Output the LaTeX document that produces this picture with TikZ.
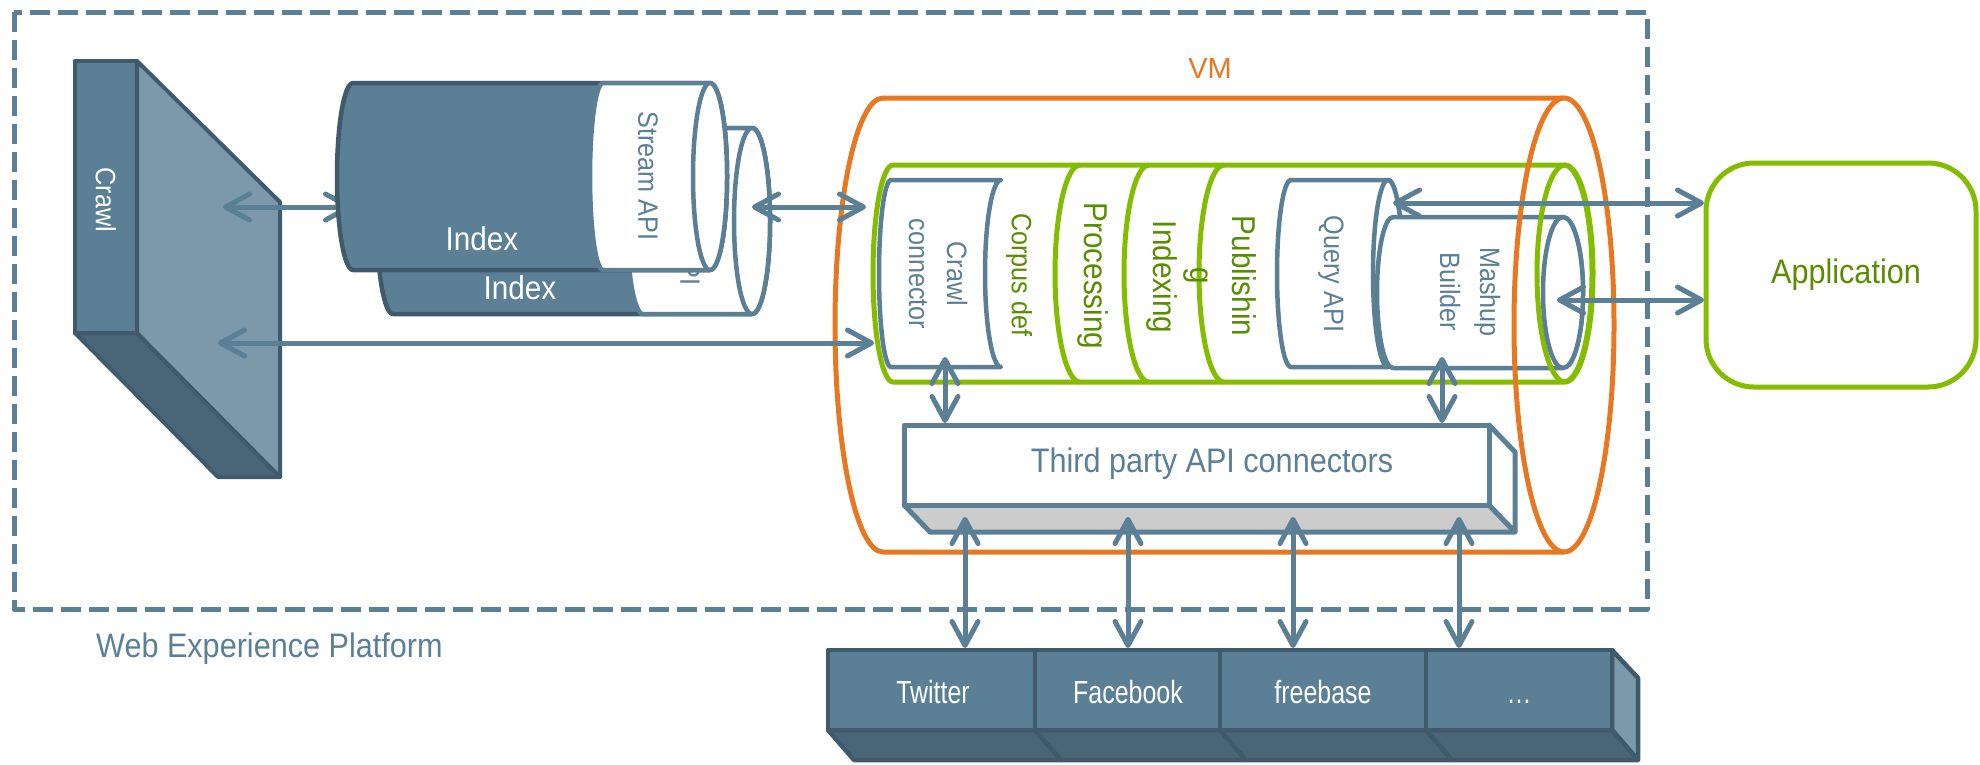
\documentclass[tikz,border=0pt]{standalone}
\usepackage{fontspec}
\setmainfont{Liberation Sans}[FakeStretch=0.9]
\newfontfamily\condfont{Liberation Sans}[FakeStretch=0.78]
\newfontfamily\plainfont{Liberation Sans}
\usetikzlibrary{arrows.meta}
\definecolor{sb}{HTML}{5B7F95}
\definecolor{sbd}{HTML}{3F5A6C}
\definecolor{sbb}{HTML}{4A6577}
\definecolor{sbl}{HTML}{7C99AC}
\definecolor{vmor}{HTML}{E87722}
\definecolor{gln}{HTML}{84BD00}
\definecolor{gtx}{HTML}{5A8C00}
\definecolor{lgr}{HTML}{CCCCCC}
\begin{document}
\begin{tikzpicture}[x=1pt,y=-1pt,line join=round,
  tA/.style={font=\fontsize{28}{38}\selectfont},
  tB/.style={font=\fontsize{33}{42}\selectfont},
  tC/.style={font=\fontsize{34}{40}\selectfont},
  tD/.style={font=\condfont\fontsize{32}{38}\selectfont},
  dk/.style={fill=sb,draw=sbd,line width=4.5pt},
  wt/.style={fill=white,draw=sb,line width=4.5pt},
  gr/.style={draw=gln,line width=5pt},
  arr/.style={draw=sb,line width=5pt,line cap=round,{Straight Barb[length=24pt,width=26pt,round]}-{Straight Barb[length=24pt,width=26pt,round]}}]
\useasboundingbox (0,0) rectangle (1980,764);

% platform frame
\draw[sb,line width=5pt,dash pattern=on 20pt off 8pt] (14,12) rectangle (1647,609);
\node[tC,text=sb,anchor=base west,inner sep=0pt] (wep) at (96,657) {Web Experience Platform};

% crawl wall
\filldraw[fill=sbb,draw=sbd,line width=4pt] (75,333) -- (137,333) -- (280,477) -- (218,477) -- cycle;
\filldraw[fill=sbl,draw=sbd,line width=4pt] (137,61) -- (280,202) -- (280,477) -- (137,333) -- cycle;
\filldraw[fill=sb,draw=sbd,line width=4pt] (75,61) rectangle (137,333);
\node[tA,rotate=-90,text=white] (crawl) at (106,200) {Crawl};

% arrow crawl <-> index (behind cylinder)
\coordinate (c1) at (223,207);
\coordinate (i1) at (352,207);
\draw[arr] (c1) -- (i1);

% back index cylinder
\filldraw[dk] (393,128) -- (752,128) arc[start angle=90,end angle=-90,x radius=18pt,y radius=93pt] -- (393,314) arc[start angle=270,end angle=90,x radius=16pt,y radius=93pt] -- cycle;
\filldraw[wt] (643,128) -- (752,128) arc[start angle=90,end angle=-90,x radius=18pt,y radius=93pt] -- (643,314) arc[start angle=270,end angle=90,x radius=16pt,y radius=93pt] -- cycle;
\filldraw[wt] (752,221) ellipse[x radius=18pt,y radius=93pt];
\node[tB,text=white] (idx2) at (520,288) {Index};
\node[tA,rotate=-90,text=sb] (sapi2) at (690,221) {Stream API};

% front index cylinder
\filldraw[dk] (353,83) -- (710,83) arc[start angle=90,end angle=-90,x radius=17pt,y radius=93.5pt] -- (353,270) arc[start angle=270,end angle=90,x radius=16pt,y radius=93.5pt] -- cycle;
\filldraw[wt] (603,83) -- (710,83) arc[start angle=90,end angle=-90,x radius=17pt,y radius=93.5pt] -- (603,270) arc[start angle=270,end angle=90,x radius=13pt,y radius=93.5pt] -- cycle;
\filldraw[wt] (710,176.5) ellipse[x radius=17pt,y radius=93.5pt];
\node[tB,text=white] (idx1) at (482,239) {Index};
\node[tA,rotate=-90,text=sb] (sapi1) at (648,176) {Stream API};

% VM orange cylinder body
\draw[vmor,line width=5pt] (1564,98) -- (883,98) arc[start angle=90,end angle=270,x radius=48pt,y radius=227pt] -- (1564,552);
\node[font=\plainfont\fontsize{29}{34}\selectfont,text=vmor,anchor=base] (vm) at (1210,78) {VM};

% green pipeline cylinder
\filldraw[fill=white,gr] (893,165) -- (1564,165) arc[start angle=90,end angle=-90,x radius=28pt,y radius=108.5pt] -- (893,382) arc[start angle=270,end angle=90,x radius=20pt,y radius=108.5pt] -- cycle;
\draw[gr] (1080,165) arc[start angle=90,end angle=270,x radius=25pt,y radius=108.5pt];
\draw[gr] (1149,165) arc[start angle=90,end angle=270,x radius=25pt,y radius=108.5pt];
\draw[gr] (1224,165) arc[start angle=90,end angle=270,x radius=25pt,y radius=108.5pt];
\node[tA,rotate=-90,text=gtx] (corpus) at (1019,275) {Corpus def};
\node[tB,rotate=-90,text=gtx] (proc) at (1093,276) {Processing};
\node[tB,rotate=-90,text=gtx] (idxg) at (1162,277) {Indexing};
\node[tB,rotate=-90,text=gtx,align=center,font=\fontsize{33}{42}\selectfont] (pub) at (1220,276) {Publishin\\g};

% crawl connector
\filldraw[wt] (891,180) -- (1001,180) arc[start angle=90,end angle=270,x radius=16pt,y radius=93.5pt] -- (891,367) arc[start angle=270,end angle=90,x radius=12pt,y radius=93.5pt] -- cycle;
\node[tA,rotate=-90,text=sb,align=center] (cc) at (938,274) {Crawl\\connector};

% query API
\filldraw[wt] (1291,180) -- (1388,180) arc[start angle=90,end angle=-90,x radius=15pt,y radius=93.5pt] -- (1291,367) arc[start angle=270,end angle=90,x radius=14pt,y radius=93.5pt] -- cycle;
\filldraw[wt] (1388,273.5) ellipse[x radius=15pt,y radius=93.5pt];
\node[tA,rotate=-90,text=sb] (qapi) at (1331,274) {Query API};

% mashup builder
\filldraw[wt] (1393,217) -- (1563,217) arc[start angle=90,end angle=-90,x radius=20pt,y radius=75.5pt] -- (1393,368) arc[start angle=270,end angle=90,x radius=16pt,y radius=75.5pt] -- cycle;
\node[tA,rotate=-90,text=sb,align=center,font=\fontsize{28}{40}\selectfont] (mash) at (1470,292) {Mashup\\Builder};
\draw[gr] (1565,273.5) ellipse[x radius=28pt,y radius=108.5pt];
\filldraw[wt] (1563,292.5) ellipse[x radius=20pt,y radius=75.5pt];

% orange right cap
\draw[vmor,line width=5pt] (1564,325) ellipse[x radius=50pt,y radius=227pt];

% third party connectors box
\filldraw[fill=lgr,draw=sb,line width=5pt] (904,505) -- (1489,505) -- (1515,532) -- (930,532) -- cycle;
\filldraw[fill=white,draw=sb,line width=5pt] (1489,425) -- (1515,452) -- (1515,532) -- (1489,505) -- cycle;
\filldraw[fill=white,draw=sb,line width=5pt] (904,425) rectangle (1489,505);
\node[tC,text=sb,anchor=base] (tp) at (1212,472) {Third party API connectors};

% external services
\filldraw[fill=sbl,draw=sbd,line width=4.5pt] (1612,650) -- (1638,678) -- (1638,760) -- (1612,730) -- cycle;
\foreach \xa/\xb in {828/1035,1035/1220,1220/1426,1426/1612}{
  \filldraw[fill=sbb,draw=sbd,line width=4.5pt] (\xa,730) -- (\xb,730) -- (\xb+26,760) -- (\xa+26,760) -- cycle;
  \filldraw[fill=sb,draw=sbd,line width=4.5pt] (\xa,650) rectangle (\xb,730);
}
\node[tD,text=white,anchor=base] (tw) at (933,703) {Twitter};
\node[tD,text=white,anchor=base] (fb) at (1128,703) {Facebook};
\node[tD,text=white,anchor=base] (frb) at (1323,703) {freebase};
\node[tD,text=white,anchor=base] (more) at (1519,703) {…};

% application
\filldraw[fill=white,gr,rounded corners=48pt] (1706,163) rectangle (1976,387);
\node[tC,text=gtx] (app) at (1846,275) {Application};

% connectors
\coordinate (s1) at (752,207);
\coordinate (g1) at (866,207);
\coordinate (c2) at (218,343);
\coordinate (g2) at (874,343);
\coordinate (q1) at (1393,203);
\coordinate (ap1) at (1704,203);
\coordinate (m1) at (1557,300);
\coordinate (ap2) at (1704,300);
\coordinate (cc1) at (945,357);
\coordinate (tp1) at (945,423);
\coordinate (m2) at (1442,357);
\coordinate (tp2) at (1442,423);
\draw[arr] (s1) -- (g1);
\draw[arr] (c2) -- (g2);
\draw[arr] (q1) -- (ap1);
\draw[arr] (m1) -- (ap2);
\draw[arr] (cc1) -- (tp1);
\draw[arr] (m2) -- (tp2);
\foreach \xx in {965,1128,1293,1459}{
  \coordinate (u\xx) at (\xx,517);
  \coordinate (d\xx) at (\xx,648);
  \draw[arr] (u\xx) -- (d\xx);
}
\end{tikzpicture}
\end{document}
